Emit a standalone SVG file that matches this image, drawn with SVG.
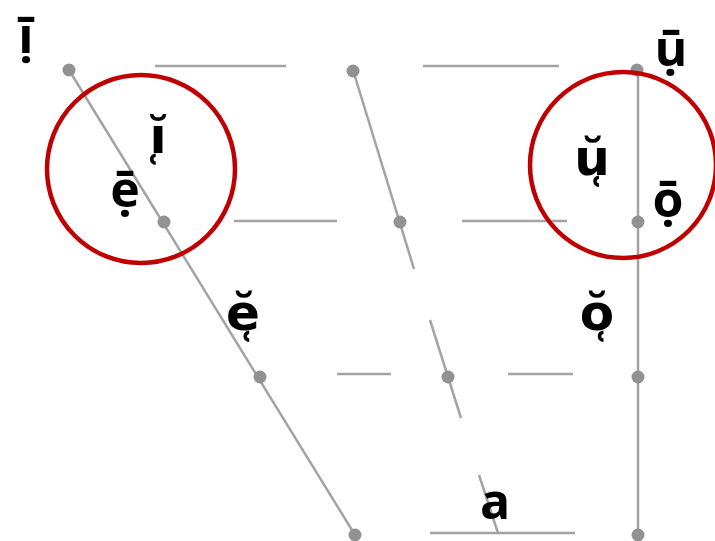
<svg xmlns="http://www.w3.org/2000/svg" width="715" height="541" viewBox="0 0 715 541">
<style>
.ln{stroke:#a3a3a3;stroke-width:2.5;fill:none;stroke-linecap:butt}
.dot{fill:#929292}
.ring{fill:none;stroke:#c00000;stroke-width:4.5}
.lb{font-family:"Open Sans","DejaVu Sans",sans-serif;font-weight:bold;font-size:50px;fill:#000;text-anchor:middle}
</style>
<rect width="715" height="541" fill="#fff"/>
<g id="connectors">
<line class="ln" x1="155" y1="66" x2="286" y2="66"/>
<line class="ln" x1="423" y1="66" x2="559" y2="66"/>
<line class="ln" x1="234" y1="221" x2="337" y2="221"/>
<line class="ln" x1="462" y1="221" x2="567" y2="221"/>
<line class="ln" x1="337" y1="374" x2="391" y2="374"/>
<line class="ln" x1="508" y1="374" x2="573" y2="374"/>
<line class="ln" x1="430" y1="533" x2="575" y2="533"/>
<line class="ln" x1="69" y1="70" x2="355" y2="535"/>
<line class="ln" x1="353" y1="70" x2="414" y2="269"/>
<line class="ln" x1="430" y1="320" x2="461" y2="418"/>
<line class="ln" x1="479" y1="475" x2="498" y2="533"/>
<line class="ln" x1="638" y1="70" x2="638" y2="535"/>
</g>
<g id="dots">
<circle class="dot" cx="69" cy="70" r="6.5"/>
<circle class="dot" cx="353" cy="71" r="6.5"/>
<circle class="dot" cx="637" cy="70" r="6.5"/>
<circle class="dot" cx="164" cy="222" r="6.5"/>
<circle class="dot" cx="400" cy="222" r="6.5"/>
<circle class="dot" cx="638" cy="222" r="6.5"/>
<circle class="dot" cx="260" cy="377" r="6.5"/>
<circle class="dot" cx="448" cy="377" r="6.5"/>
<circle class="dot" cx="638" cy="377" r="6.5"/>
<circle class="dot" cx="355" cy="535" r="6.5"/>
<circle class="dot" cx="638" cy="535" r="6.5"/>
</g>
<g id="v-i-long"><text class="lb" x="26" y="53">ị̄</text></g>
<g id="v-i-short"><text class="lb" x="158" y="153">ĭ̜</text></g>
<g id="v-e-long"><text class="lb" x="125" y="207">ẹ̄</text></g>
<g id="v-e-short"><text class="lb" x="243" y="330">ĕ̜</text></g>
<g id="v-u-long"><text class="lb" x="671" y="66">ụ̄</text></g>
<g id="v-u-short"><text class="lb" x="592" y="175">ŭ̜</text></g>
<g id="v-o-long"><text class="lb" x="668" y="217">ọ̄</text></g>
<g id="v-o-short"><text class="lb" x="597" y="330">ŏ̜</text></g>
<g id="v-a"><text class="lb" x="495" y="519">a</text></g>
<g id="highlights">
<circle class="ring" cx="141" cy="169" r="94"/>
<circle class="ring" cx="623" cy="165" r="93"/>
</g>
</svg>
